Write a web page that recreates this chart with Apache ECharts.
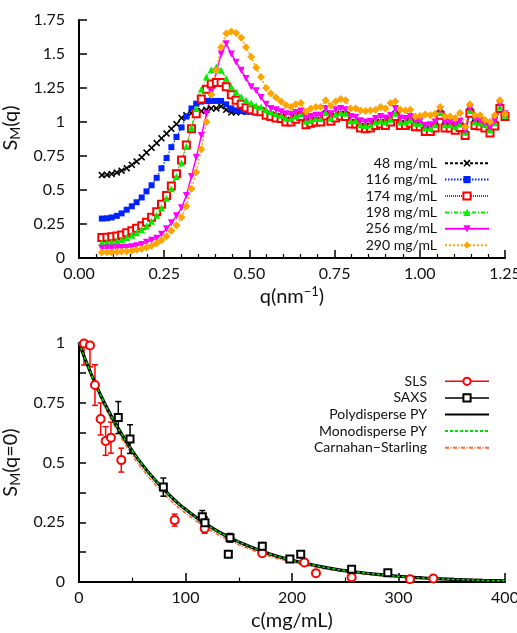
<!DOCTYPE html>
<html><head><meta charset="utf-8">
<script src="https://cdn.jsdelivr.net/npm/echarts@6/dist/echarts.min.js"></script>
<style>html,body{margin:0;padding:0;background:#fff}#c{width:517px;height:633px}</style>
</head><body><div id="c"></div>
<script>
// ---------- Top panel: S_M(q) ----------
const q = [0.067,0.082,0.096,0.111,0.125,0.140,0.155,0.169,0.184,0.198,0.213,0.228,0.242,0.257,0.271,0.286,0.301,0.315,0.330,0.344,0.359,0.374,0.388,0.403,0.417,0.432,0.447,0.461,0.476,0.490,0.505,0.520,0.534,0.549,0.563,0.578,0.593,0.607,0.622,0.636,0.651,0.666,0.680,0.695,0.709,0.724,0.739,0.753,0.768,0.782,0.797,0.812,0.826,0.841,0.855,0.870,0.885,0.899,0.914,0.928,0.943,0.958,0.972,0.987,1.001,1.016,1.031,1.045,1.060,1.074,1.089,1.104,1.118,1.133,1.147,1.162,1.177,1.191,1.206,1.220,1.235,1.250];
const s48 = [0.61,0.612,0.618,0.628,0.642,0.66,0.685,0.71,0.74,0.775,0.81,0.845,0.88,0.915,0.95,0.985,1.03,1.05,1.065,1.075,1.08,1.09,1.1,1.1,1.115,1.09,1.07,1.07,1.075,1.08,1.08,
 1.09,1.085,1.06,1.055,1.045,1.04,1.015,1.015,1.035,1.055,0.995,1.005,1.015,1.015,1.06,1.02,1.045,1.06,1.055,1.0,1.0,0.97,0.965,0.97,0.99,1.0,0.99,1.015,1.055,0.99,0.99,1.005,0.98,0.98,0.945,0.945,0.97,1.065,0.97,0.97,0.955,0.975,0.915,1.08,0.99,0.985,0.97,0.935,0.985,1.11,1.05];
const s116 = [0.29,0.292,0.298,0.31,0.328,0.355,0.38,0.41,0.445,0.49,0.535,0.59,0.66,0.735,0.815,0.89,0.96,1.04,1.1,1.135,1.15,1.155,1.155,1.155,1.155,1.13,1.1,1.085,1.08,1.075,1.075,
 1.07,1.07,1.05,1.04,1.03,1.025,1.005,1.0,1.02,1.04,0.985,0.995,1.0,1.0,1.045,1.005,1.03,1.045,1.04,0.99,0.99,0.96,0.955,0.96,0.98,0.99,0.98,1.0,1.04,0.98,0.98,0.995,0.97,0.97,0.935,0.935,0.96,1.05,0.96,0.96,0.945,0.965,0.905,1.07,0.98,0.975,0.96,0.925,0.975,1.1,1.045];
const s174 = [0.15,0.152,0.156,0.162,0.17,0.185,0.2,0.218,0.238,0.262,0.3,0.34,0.395,0.46,0.53,0.62,0.72,0.83,0.95,1.06,1.17,1.24,1.28,1.29,1.29,1.26,1.2,1.16,1.13,1.105,1.09,
 1.08,1.075,1.05,1.04,1.03,1.025,1.0,1.0,1.02,1.04,0.98,0.99,1.0,1.0,1.045,1.005,1.03,1.045,1.04,0.985,0.985,0.955,0.95,0.955,0.975,0.985,0.975,1.0,1.04,0.975,0.975,0.99,0.965,0.965,0.93,0.93,0.955,1.05,0.955,0.955,0.94,0.96,0.9,1.065,0.975,0.97,0.955,0.92,0.97,1.1,1.04];
const s198 = [0.112,0.113,0.118,0.125,0.135,0.15,0.168,0.185,0.208,0.235,0.27,0.315,0.37,0.44,0.51,0.6,0.7,0.82,0.96,1.1,1.24,1.33,1.385,1.405,1.38,1.32,1.26,1.22,1.185,1.16,1.14,
 1.12,1.11,1.09,1.075,1.06,1.05,1.03,1.025,1.045,1.06,1.005,1.015,1.025,1.025,1.07,1.03,1.055,1.07,1.065,1.01,1.01,0.98,0.975,0.98,1.0,1.01,1.0,1.02,1.065,1.0,1.0,1.015,0.99,0.99,0.955,0.955,0.98,1.07,0.98,0.98,0.965,0.985,0.925,1.085,1.0,0.995,0.98,0.945,0.995,1.11,1.05];
const s256 = [0.072,0.073,0.074,0.076,0.078,0.079,0.083,0.09,0.1,0.115,0.13,0.145,0.175,0.215,0.26,0.31,0.37,0.46,0.6,0.74,0.9,1.06,1.22,1.37,1.5,1.575,1.5,1.44,1.38,1.32,1.26,
 1.23,1.18,1.13,1.1,1.09,1.075,1.06,1.055,1.07,1.08,1.03,1.04,1.05,1.05,1.1,1.06,1.09,1.1,1.09,1.04,1.035,1.01,1.0,1.005,1.025,1.04,1.03,1.05,1.1,1.03,1.025,1.04,1.01,1.01,0.975,0.98,1.0,1.09,1.0,1.0,0.985,1.005,0.935,1.1,1.02,1.01,0.99,0.96,1.01,1.13,1.06];
const s290 = [0.042,0.042,0.043,0.045,0.047,0.05,0.054,0.06,0.067,0.077,0.09,0.108,0.13,0.16,0.2,0.24,0.3,0.38,0.51,0.63,0.8,1.0,1.2,1.38,1.55,1.65,1.665,1.655,1.62,1.55,1.48,
 1.40,1.33,1.25,1.21,1.18,1.15,1.125,1.11,1.13,1.14,1.076,1.1,1.11,1.11,1.16,1.12,1.15,1.17,1.16,1.1,1.1,1.085,1.08,1.085,1.09,1.11,1.1,1.14,1.15,1.09,1.085,1.09,1.04,1.045,1.055,1.05,1.06,1.11,1.04,1.04,1.03,1.066,0.965,1.13,1.05,1.05,1.015,1.0,1.05,1.16,1.06];
const topNames = ['48 mg/mL','116 mg/mL','174 mg/mL','198 mg/mL','256 mg/mL','290 mg/mL'];

// ---------- Bottom panel: S_M(q=0) vs c ----------
const slsC   = [4.7,10.3,15,20.3,25,30,39.7,89.8,118,172,211.6,222.5,256,310.8,332.7];
const slsS   = [0.998,0.99,0.824,0.682,0.59,0.604,0.51,0.259,0.224,0.12,0.082,0.037,0.02,0.012,0.015];
const slsErr = [0.09,0.09,0.085,0.067,0.06,0.065,0.05,0.025,0.02,0.01,0.008,0.005,0.003,0.002,0.002];
const saxsC   = [36.9,47.9,79.2,115.8,118.3,140.2,141.8,172.1,198,208.2,256,290];
const saxsS   = [0.688,0.598,0.397,0.273,0.248,0.116,0.185,0.15,0.096,0.116,0.053,0.039];
const saxsErr = [0.067,0.06,0.038,0.026,0.024,0.01,0.018,0.015,0.009,0.011,0.005,0.004];
const curveC = [0,10,20,30,40,50,60,70,80,90,100,120,140,160,180,200,220,240,260,280,300,320,340,360,380,400];
const polyPY = [1,0.886,0.785,0.697,0.619,0.549,0.488,0.434,0.385,0.342,0.304,0.240,0.189,0.149,0.116,0.091,0.071,0.054,0.042,0.032,0.024,0.018,0.013,0.0096,0.0069,0.0048];
const monoPY = [1,0.886,0.785,0.697,0.619,0.549,0.488,0.434,0.385,0.342,0.304,0.240,0.189,0.149,0.116,0.091,0.071,0.054,0.042,0.032,0.024,0.018,0.013,0.0096,0.0069,0.0048];
const carnSt = [1,0.878,0.772,0.681,0.601,0.530,0.469,0.415,0.367,0.325,0.288,0.226,0.177,0.138,0.107,0.083,0.064,0.049,0.037,0.028,0.021,0.016,0.012,0.0085,0.006,0.0042];
const botNames = ['SLS','SAXS','Polydisperse PY','Monodisperse PY','Carnahan\u2212Starling'];

const FONT = 'Lato, "DejaVu Sans", sans-serif';
const TXT = '#111';
const pairs = (xs, ys) => xs.map((x, i) => [x, ys[i]]);

const SYM_X = 'path://M0,1.6L1.6,0L5,3.4L8.4,0L10,1.6L6.6,5L10,8.4L8.4,10L5,6.6L1.6,10L0,8.4L3.4,5Z';
const SYM_DOWN = 'path://M0,0L10,0L5,9Z';

const topStyles = [
  {color:'#000000', symbol:SYM_X, size:7, line:{type:[3,2], width:1.1}},
  {color:'#0022ff', symbol:'rect', size:6, line:{type:[1.5,1.5], width:1.2}},
  {color:'#ff0000', symbol:'emptyRect', size:7, line:{type:[1,1], width:1}},
  {color:'#00ee00', symbol:'triangle', size:7, line:{type:[4,2,1,2], width:1.2}},
  {color:'#ff00ff', symbol:SYM_DOWN, size:7, line:{type:'solid', width:1.5}},
  {color:'#ffa500', symbol:'diamond', size:8, line:{type:[2,2], width:1.5}}
];
const topData = [s48, s116, s174, s198, s256, s290];

const series = [];
topData.forEach((arr, k) => {
  const st = topStyles[k];
  series.push({
    name: topNames[k], type:'line', xAxisIndex:0, yAxisIndex:0,
    data: pairs(q, arr), symbol: st.symbol, symbolSize: st.size, showSymbol:true,
    itemStyle:{color: st.color, borderWidth: st.symbol==='emptyRect'?1.3:0},
    lineStyle:{color: st.color, width: st.line.width, type: st.line.type},
    emphasis:{disabled:true}
  });
});

function errRender(params, api) {
  const x = api.value(0), lo = api.value(2), hi = api.value(3);
  const t = api.coord([x, hi]), b = api.coord([x, lo]);
  const w = 3, c = api.visual('color');
  const st = {stroke:c, lineWidth:1.5};
  return {type:'group', children:[
    {type:'line', shape:{x1:t[0], y1:t[1], x2:b[0], y2:b[1]}, style:st},
    {type:'line', shape:{x1:t[0]-w, y1:t[1], x2:t[0]+w, y2:t[1]}, style:st},
    {type:'line', shape:{x1:b[0]-w, y1:b[1], x2:b[0]+w, y2:b[1]}, style:st}
  ]};
}
const errData = (cs, ss, es) => cs.map((c, i) => [c, ss[i], ss[i]-es[i], ss[i]+es[i]]);

series.push(
  {name:'Polydisperse PY', type:'line', xAxisIndex:1, yAxisIndex:1, data:pairs(curveC, polyPY), smooth:true, symbol:'none',
   itemStyle:{color:'#000'}, lineStyle:{color:'#000', width:3.2}, emphasis:{disabled:true}},
  {name:'Monodisperse PY', type:'line', xAxisIndex:1, yAxisIndex:1, data:pairs(curveC, monoPY), smooth:true, symbol:'none',
   itemStyle:{color:'#00dd00'}, lineStyle:{color:'#00dd00', width:1.5, type:[3,2]}, emphasis:{disabled:true}},
  {name:'Carnahan\u2212Starling', type:'line', xAxisIndex:1, yAxisIndex:1, data:pairs(curveC, carnSt), smooth:true, symbol:'none',
   itemStyle:{color:'#ff6633'}, lineStyle:{color:'#ff6633', width:1.5, type:[4,1.5,1,1.5]}, emphasis:{disabled:true}, z:1},
  {name:'SLS err', type:'custom', xAxisIndex:1, yAxisIndex:1, data:errData(slsC, slsS, slsErr), renderItem:errRender,
   encode:{x:0, y:[1,2,3]}, itemStyle:{color:'#ff0000'}, clip:true, silent:true},
  {name:'SAXS err', type:'custom', xAxisIndex:1, yAxisIndex:1, data:errData(saxsC, saxsS, saxsErr), renderItem:errRender,
   encode:{x:0, y:[1,2,3]}, itemStyle:{color:'#000'}, clip:true, silent:true},
  {name:'SLS', type:'line', xAxisIndex:1, yAxisIndex:1, data:pairs(slsC, slsS), symbol:'emptyCircle', symbolSize:8,
   itemStyle:{color:'#ff0000', borderWidth:1.5}, lineStyle:{color:'#ff0000', width:1.5, opacity:0}, emphasis:{disabled:true}},
  {name:'SAXS', type:'line', xAxisIndex:1, yAxisIndex:1, data:pairs(saxsC, saxsS), symbol:'emptyRect', symbolSize:7,
   itemStyle:{color:'#000', borderWidth:1.5}, lineStyle:{color:'#000', width:1.5, opacity:0}, emphasis:{disabled:true}}
);

const axisLine = {show:true, onZero:false, lineStyle:{color:'#000', width:2}};
const label = (extra) => Object.assign({color:TXT, fontFamily:FONT, fontSize:16}, extra);
const rich = {
  n:{fontFamily:FONT, fontSize:20, color:TXT, lineHeight:24},
  sub:{fontFamily:FONT, fontSize:14, color:TXT, lineHeight:14, verticalAlign:'bottom'},
  sup:{fontFamily:FONT, fontSize:13, color:TXT, lineHeight:13, verticalAlign:'top'}
};

const option = {
  animation:false,
  backgroundColor:'#fff',
  textStyle:{fontFamily:FONT},
  grid:[
    {left:79, right:12, top:20, height:238, containLabel:false, outerBoundsMode:'none'},
    {left:79, right:12, top:343, height:239, containLabel:false, outerBoundsMode:'none'}
  ],
  xAxis:[
    {gridIndex:0, type:'value', min:0, max:1.25, interval:0.25,
     axisLine, axisTick:{show:true, inside:true, length:8, lineStyle:{color:'#000', width:1.5}},
     minorTick:{show:true, splitNumber:5, length:4, lineStyle:{color:'#000', width:1.2}},
     splitLine:{show:false}, minorSplitLine:{show:false},
     axisLabel:label({margin:8, formatter:v => v.toFixed(2)}),
     name:'{n|q(nm}{sup|\u22121}{n|)}', nameLocation:'middle', nameGap:27, nameTextStyle:{rich}},
    {gridIndex:1, type:'value', min:0, max:400, interval:100,
     axisLine, axisTick:{show:true, inside:true, length:9, lineStyle:{color:'#000', width:1.5}},
     minorTick:{show:true, splitNumber:2, length:4.5, lineStyle:{color:'#000', width:1.2}},
     splitLine:{show:false},
     axisLabel:label({margin:8}),
     name:'{n|c(mg/mL)}', nameLocation:'middle', nameGap:27, nameTextStyle:{rich}}
  ],
  yAxis:[
    {gridIndex:0, type:'value', min:0, max:1.75, interval:0.25,
     axisLine, axisTick:{show:true, inside:true, length:8, lineStyle:{color:'#000', width:1.5}},
     splitLine:{show:false},
     axisLabel:label({margin:14}),
     name:'{n|S}{sub|M}{n|(q)}', nameLocation:'middle', nameGap:46, nameRotate:90,
     nameTextStyle:{rich, padding:[0,0,0,22]}},
    {gridIndex:1, type:'value', min:0, max:1, interval:0.25,
     axisLine, axisTick:{show:true, inside:true, length:7, lineStyle:{color:'#000', width:1.5}},
     minorTick:{show:true, splitNumber:2, length:7, lineStyle:{color:'#000', width:1.5}},
     splitLine:{show:false},
     axisLabel:label({margin:14}),
     name:'{n|S}{sub|M}{n|(q=0)}', nameLocation:'middle', nameGap:46, nameRotate:90,
     nameTextStyle:{rich}}
  ],
  legend:[
    {data:topNames, orient:'vertical', align:'right', right:22, top:150, itemWidth:44, itemHeight:9, itemGap:0,
     selectedMode:false, textStyle:{fontFamily:FONT, fontSize:14, color:TXT, lineHeight:16.4, padding:[0,3,0,0]}},
    {data:[
       {name:'SLS', lineStyle:{opacity:1, width:1.5}},
       {name:'SAXS', lineStyle:{opacity:1, width:1.5}},
       {name:'Polydisperse PY', itemStyle:{opacity:0}},
       {name:'Monodisperse PY', itemStyle:{opacity:0}},
       {name:'Carnahan\u2212Starling', itemStyle:{opacity:0}}
     ], orient:'vertical', align:'right', right:22, top:368, itemWidth:44, itemHeight:9, itemGap:0,
     selectedMode:false, textStyle:{fontFamily:FONT, fontSize:14, color:TXT, lineHeight:16.6, padding:[0,13,0,0]}}
  ],
  series
};

const chart = echarts.init(document.getElementById('c'), null, {renderer:'canvas'});
chart.setOption(option);
</script>
</body></html>
